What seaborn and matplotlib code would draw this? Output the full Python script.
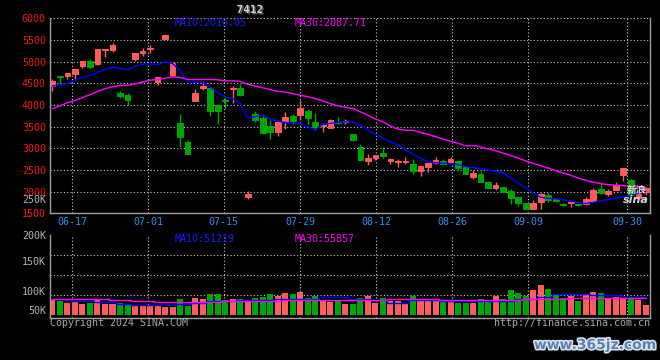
import numpy as np
import pandas as pd
import matplotlib
matplotlib.use("Agg")
import matplotlib.pyplot as plt
import matplotlib.patheffects as pe
from matplotlib.ticker import FixedLocator, NullFormatter
import seaborn as sns

# дневные свечи (цена)
opens = [4428, 4680, 4657, 4726, 4909, 5016, 4947, 5260, 5260, 4268,
         4230, 5069, 5191, 5290, 4535, 5527, 4703, 3581, 3146, 4085,
         4398, 4398, 3993, 4108, 4360, 4383, 1880, 3802, 3688, 3505,
         3383, 3604, 3749, 3757, 3871, 3612, 3513, 3459, 3612, 3604,
         3329, 3032, 2711, 2772, 2895, 2696, 2673, 2681, 2643, 2468,
         2574, 2658, 2711, 2673, 2711, 2567, 2338, 2414, 2231, 2094,
         2117, 2025, 1865, 1727, 1590, 1765, 1926, 1819, 1704, 1727,
         1704, 1704, 1788, 2056, 1949, 2048, 2391, 2260, 1850, 1987]
highs = [4588, 4680, 4749, 4840, 5023, 5061, 5298, 5298, 5420, 4329,
         4268, 5206, 5306, 5390, 4642, 5641, 4993, 3787, 3185, 4360,
         4543, 4421, 4031, 4161, 4436, 4482, 2017, 3856, 3802, 3642,
         3642, 3833, 3802, 4115, 3901, 3810, 3574, 3665, 3719, 3680,
         3329, 3101, 2864, 2849, 3024, 2765, 2750, 2803, 2757, 2582,
         2650, 2795, 2757, 2803, 2711, 2567, 2498, 2468, 2254, 2231,
         2117, 2071, 1865, 1727, 1796, 1972, 1957, 1849, 1727, 1750,
         1720, 1880, 2094, 2231, 2063, 2231, 2544, 2290, 1960, 2109]
lows = [4314, 4490, 4604, 4604, 4848, 4855, 4932, 5106, 5214, 4161,
        4009, 5008, 5138, 5191, 4451, 5512, 4657, 3040, 2879, 4085,
        4337, 3749, 3566, 3901, 4054, 4199, 1834, 3604, 3322, 3223,
        3292, 3452, 3559, 3642, 3551, 3413, 3383, 3459, 3551, 3559,
        3162, 2711, 2605, 2734, 2765, 2627, 2559, 2643, 2399, 2368,
        2445, 2627, 2643, 2673, 2506, 2414, 2300, 2231, 2078, 2048,
        2002, 1720, 1666, 1598, 1590, 1598, 1765, 1758, 1674, 1643,
        1666, 1689, 1788, 1941, 1895, 2048, 2238, 1880, 1830, 1933]
closes = [4550, 4634, 4749, 4840, 5023, 4886, 5298, 5298, 5390, 4207,
          4108, 5206, 5237, 5313, 4642, 5618, 4970, 3261, 2879, 4268,
          4444, 3863, 3863, 4085, 4398, 4222, 1956, 3650, 3360, 3368,
          3612, 3726, 3635, 3924, 3688, 3490, 3528, 3650, 3574, 3635,
          3192, 2734, 2765, 2849, 2811, 2742, 2696, 2704, 2483, 2582,
          2650, 2734, 2643, 2757, 2551, 2414, 2437, 2231, 2078, 2147,
          2002, 1857, 1735, 1598, 1727, 1934, 1811, 1781, 1681, 1750,
          1681, 1819, 2033, 1980, 2017, 2147, 2544, 1930, 1935, 2086]

ma10 = [4436, 4466, 4497, 4573, 4634, 4680, 4756, 4817, 4871, 4848,
        4810, 4893, 4939, 4955, 4932, 4993, 4955, 4794, 4527, 4527,
        4527, 4413, 4283, 4184, 4146, 4031, 3703, 3726, 3764, 3673,
        3627, 3597, 3574, 3574, 3498, 3421, 3551, 3574, 3597, 3612,
        3597, 3536, 3421, 3322, 3230, 3154, 3078, 2963, 2864, 2773,
        2689, 2666, 2658, 2643, 2620, 2582, 2559, 2528, 2498, 2467,
        2429, 2315, 2200, 2086, 1971, 1872, 1842, 1834, 1811, 1781,
        1750, 1727, 1750, 1796, 1819, 1849, 1880, 1905, 1965, 2010]
ma30 = [3917, 3978, 4054, 4100, 4169, 4237, 4314, 4375, 4421, 4451,
        4451, 4489, 4527, 4573, 4588, 4619, 4650, 4634, 4588, 4588,
        4588, 4588, 4581, 4558, 4558, 4543, 4474, 4436, 4398, 4352,
        4314, 4299, 4261, 4222, 4192, 4146, 4092, 4031, 3978, 3948,
        3917, 3841, 3764, 3673, 3612, 3513, 3444, 3414, 3414, 3368,
        3322, 3268, 3215, 3162, 3116, 3055, 3063, 3032, 2986, 2948,
        2887, 2834, 2773, 2711, 2650, 2597, 2544, 2483, 2429, 2376,
        2315, 2261, 2216, 2185, 2162, 2147, 2139, 2124, 2101, 2088]

# объём, тыс.
volume = [36.8, 34.3, 29.3, 31.8, 27.6, 28.0, 38.4, 27.6, 27.6, 29.3,
          25.0, 24.3, 22.6, 22.6, 22.6, 19.3, 19.3, 39.3, 22.6, 41.8,
          39.3, 51.8, 51.8, 36.0, 39.3, 38.4, 31.8, 41.8, 44.3, 51.8,
          45.9, 54.3, 51.8, 56.8, 41.8, 46.8, 37.6, 31.8, 34.3, 26.8,
          26.8, 41.8, 46.8, 30.0, 41.8, 33.4, 33.4, 30.0, 46.8, 33.4,
          35.0, 35.0, 35.0, 31.8, 30.0, 30.0, 30.0, 38.4, 33.4, 46.8,
          38.4, 61.8, 54.3, 46.0, 61.8, 74.3, 64.3, 50.0, 41.8, 47.6,
          33.4, 50.0, 56.8, 53.4, 40.0, 44.3, 41.8, 41.0, 36.8, 24.3]
vol_ma10 = [38.4, 38.4, 38.4, 35.0, 35.0, 35.0, 30.9, 30.9, 30.9, 26.8,
            26.8, 25.0, 25.0, 25.0, 25.0, 23.4, 23.4, 26.8, 26.8, 30.0,
            30.0, 33.4, 33.4, 33.4, 33.4, 36.8, 36.8, 36.8, 36.8, 36.8,
            40.0, 40.0, 40.0, 40.0, 40.0, 40.0, 43.4, 43.4, 43.4, 43.4,
            40.0, 40.0, 40.0, 36.8, 36.8, 30.0, 30.0, 30.0, 36.8, 36.8,
            36.8, 36.8, 35.0, 35.0, 35.0, 35.0, 35.0, 35.0, 35.0, 35.0,
            35.0, 35.0, 40.0, 40.0, 40.0, 45.0, 45.0, 50.9, 50.9, 50.9,
            50.9, 50.9, 50.0, 50.0, 50.0, 50.0, 43.4, 43.4, 43.4, 43.4]
vol_ma30 = [39.0, 39.0, 39.0, 39.0, 39.0, 39.0, 39.0, 39.0, 36.8, 36.8,
            36.8, 34.3, 34.3, 34.3, 30.9, 30.9, 30.9, 30.9, 30.9, 31.5,
            31.5, 31.5, 31.5, 33.4, 33.4, 33.4, 33.4, 33.4, 33.4, 33.4,
            33.4, 36.8, 36.8, 36.8, 36.8, 36.8, 36.8, 36.8, 36.8, 36.8,
            36.8, 36.8, 36.8, 36.8, 36.8, 38.4, 38.4, 38.4, 38.4, 38.4,
            38.4, 38.4, 36.8, 36.8, 36.8, 36.8, 36.8, 36.8, 36.8, 36.8,
            36.8, 36.8, 36.8, 38.4, 38.4, 40.0, 40.0, 40.0, 40.0, 41.8,
            41.8, 41.8, 41.8, 41.8, 41.8, 41.8, 41.8, 41.8, 41.8, 41.8]

date_labels = ['06-17', '07-01', '07-15', '07-29', '08-12', '08-26', '09-09', '09-30']
price_ticks = [1500, 2000, 2500, 3000, 3500, 4000, 4500, 5000, 5500, 6000]
vol_labels = ['50K', '100K', '150K', '200K']

# раскладка (позиции меток даты и подписей объёма как на картинке)
tick_pos = [2.66, 12.74, 22.82, 32.95, 43.07, 53.24, 63.36, 76.55]
vol_grid = [50000, 100000, 150000, 200000]
vol_label_pos = [12500, 60000, 135000, 200000]

UP, DOWN = '#ff5c5c', '#00a600'
BLUE, MAG = '#0000ff', '#ff00ff'
GRID, FRAME = '#c8c8c8', '#a0a0a0'
MONO = 'DejaVu Sans Mono'

sns.set_theme(style='dark', rc={'axes.facecolor': 'black', 'figure.facecolor': 'black'})
plt.rcParams['font.family'] = [MONO, 'Noto Sans CJK SC']

W, H = 660, 360
fig = plt.figure(figsize=(6.6, 3.6), dpi=100, facecolor='black')
ax = fig.add_axes([50 / W, 1 - 213.3 / H, 600 / W, 195 / H])
axv = fig.add_axes([50 / W, 1 - 318 / H, 600 / W, 83.3 / H])

x = np.arange(len(closes))
o, h, l, c = (np.array(v, dtype=float) for v in (opens, highs, lows, closes))
up = c >= o
cols = np.where(up, UP, DOWN)

# свечи
ax.vlines(x, l, h, colors=cols, linewidth=1, zorder=2)
ax.bar(x, np.abs(c - o), bottom=np.minimum(o, c), width=0.76, color=cols,
       edgecolor=cols, linewidth=0.7, zorder=2)
sns.lineplot(x=x, y=ma10, ax=ax, color=BLUE, linewidth=1, zorder=3)
sns.lineplot(x=x, y=ma30, ax=ax, color=MAG, linewidth=1, zorder=3)

# объём
df = pd.DataFrame({'i': x, 'vol': np.array(volume) * 1000,
                   'dir': np.where(up, 'up', 'down')})
sns.barplot(data=df, x='i', y='vol', hue='dir', palette={'up': UP, 'down': DOWN},
            native_scale=True, dodge=False, width=0.8, errorbar=None, legend=False,
            saturation=1, linewidth=0, edgecolor='none', ax=axv, zorder=2)
sns.lineplot(x=x, y=np.array(vol_ma10) * 1000, ax=axv, color=BLUE, linewidth=1,
             drawstyle='steps-mid', zorder=3)
sns.lineplot(x=x, y=np.array(vol_ma30) * 1000, ax=axv, color=MAG, linewidth=1,
             drawstyle='steps-mid', zorder=3)

for a in (ax, axv):
    a.set_facecolor('black')
    a.set_xlim(-0.32, 79.55)
    a.set_xlabel('')
    a.set_ylabel('')
    for s in ('left', 'right', 'bottom'):
        a.spines[s].set_visible(True)
        a.spines[s].set_color(FRAME)
        a.spines[s].set_linewidth(1)
    a.spines['top'].set_visible(False)
    a.set_xticks(tick_pos)
    a.tick_params(length=0, which='both')
    a.xaxis.grid(True, color=GRID, linestyle=(0, (1, 2)), linewidth=0.8)

ax.set_ylim(1500, 6000)
ax.set_yticks(price_ticks)
ax.set_yticklabels([str(t) for t in price_ticks], color='#f01818', fontsize=7.2)
ax.yaxis.grid(True, color=GRID, linestyle=(0, (1, 2)), linewidth=0.8)
ax.set_xticklabels(date_labels, color='#2f8fef', fontsize=7.2)
ax.tick_params(axis='x', pad=2.5)
ax.tick_params(axis='y', pad=3)

axv.set_ylim(-8300, 200000)
axv.yaxis.set_minor_locator(FixedLocator(vol_grid))
axv.yaxis.set_minor_formatter(NullFormatter())
axv.set_yticks(vol_label_pos)
axv.set_yticklabels(vol_labels, color='#b4b4b4', fontsize=7.2)
axv.yaxis.grid(False, which='major')
axv.yaxis.grid(True, which='minor', color=GRID, linestyle=(0, (1, 2)), linewidth=0.8)
axv.set_xticklabels([])
axv.tick_params(axis='y', pad=3)

# подписи
def ftext(px, py, s, **kw):
    kw.setdefault('fontsize', 7.2)
    kw.setdefault('va', 'center')
    return fig.text(px / W, 1 - py / H, s, **kw)

ftext(250, 10, '7412', color='#d0d0d0', ha='center', fontsize=8, fontweight='bold',
      path_effects=[pe.withSimplePatchShadow(offset=(1, -1), shadow_rgbFace='#606060', alpha=1)])
ftext(175, 23.5, 'MA10:2010.05', color='#1a1aff', ha='left')
ftext(295, 23.5, 'MA30:2087.71', color=MAG, ha='left')
ftext(175, 238.5, 'MA10:51219', color='#1a1aff', ha='left')
ftext(295, 238.5, 'MA30:55857', color=MAG, ha='left')
ftext(46, 200, '250K', color='#b4b4b4', ha='right')
ftext(50, 323.5, 'Copyright 2024 SINA.COM', color='#a8a8a8', ha='left')
ftext(650, 323.5, 'http://finance.sina.com.cn', color='#a8a8a8', ha='right')

ftext(636, 190, '新浪', color='#d8d8d8', ha='center', fontsize=7,
      family=['Noto Sans CJK SC'], fontweight='bold')
ftext(636, 200, 'sina', color='#d8d8d8', ha='center', fontsize=8, fontstyle='italic',
      fontweight='bold', family=['DejaVu Sans'])
ftext(595, 345, 'www.365jz.com', color='#5a7fb2', ha='center', fontsize=10,
      fontweight='bold', family=['DejaVu Sans'],
      path_effects=[pe.withStroke(linewidth=2.2, foreground='#dfe8f2')])

fig.savefig('out.png', dpi=100, facecolor='black')
